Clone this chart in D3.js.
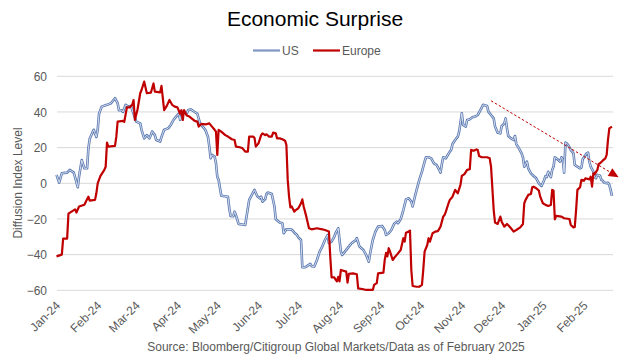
<!DOCTYPE html>
<html><head><meta charset="utf-8">
<script src="https://cdn.jsdelivr.net/npm/d3@7"></script>
<style>
html,body{margin:0;padding:0;background:#fff;}
svg text{font-family:"Liberation Sans",Arial,sans-serif;}
</style></head>
<body><svg id="c" width="627" height="359"></svg>
<script>
// ---- data (days counted from 2024-01-01) ----
const startDate = new Date(2024, 0, 1);
const seriesNames = ["US", "Europe"];
const yTicks = [-60, -40, -20, 0, 20, 40, 60];
const usDays = [0,2,4,8,10,13,14,16,17,19,21,23,24,25,27,28,30,31,32,34,38,41,44,46,47,49,50,52,54,56,58,60,63,64,66,68,70,72,74,75,78,79,81,84,86,88,90,92,93,95,98,99,101,104,106,108,110,112,114,115,116,117,119,120,121,122,124,129,130,131,133,134,135,137,142,144,145,147,149,151,153,154,155,157,158,159,162,164,165,168,170,171,173,177,179,181,182,184,185,187,191,192,194,196,198,200,202,204,205,207,209,210,212,214,215,217,220,222,225,226,228,231,233,235,236,238,240,242,245,247,248,250,252,254,256,257,259,261,263,265,267,268,270,272,273,275,277,278,280,282,284,286,288,289,290,291,293,294,296,297,298,300,302,303,304,305,306,308,309,311,313,315,317,319,321,324,325,327,329,330,332,334,335,337,338,339,340,342,344,345,346,348,350,351,352,354,355,357,359,361,363,365,367,368,369,370,372,373,374,375,377,379,380,381,382,383,384,385,387,389,390,392,394,395,396,397,399,400,401,402,404,405,406,407,409,410,411,412,414,415,416,417,418];
const usValues = [4.7,0.4,5.6,6,7.5,6,3.4,-2.2,4,13,8.4,8.4,19.6,25,28.4,30,26,30,39,43,44,44.9,47.7,44.9,41,41,40,44,43,43.4,39,34.6,33.6,30,25.2,27,25.2,29,27,24.3,23.4,26,30,30.8,32.7,35.5,37.4,39,35.6,40,39,41,41.5,40,39,33.6,31.8,30,26,20.6,14,15.9,15,11.2,3.7,1.9,-7,-7.5,-14,-18.3,-18.5,-15.9,-17.8,-22.8,-23.4,-14,-9.3,-6.5,-3.7,-7.1,-8.4,-7.5,-10.3,-9,-6,-5.2,-6,-13,-20.2,-22,-22.4,-28,-25.8,-26,-27.7,-29,-30.3,-31.8,-47.1,-47.1,-45.2,-46.5,-46.7,-43,-38.3,-35.5,-31.8,-29,-33.6,-32.7,-30,-28,-25.2,-38.3,-40.2,-38.3,-35.5,-33.6,-32,-30.8,-35.5,-37.4,-40.2,-44,-39.3,-31.8,-27.1,-24.3,-23.9,-26.2,-29,-28,-26.2,-22.8,-21.5,-22.4,-20.2,-15,-9,-8.4,-10.3,-13,-6.5,-0.9,1.9,6.5,12.1,14.6,14.6,14,11.2,10.3,7.5,6,10.8,14.6,14,15.3,17.8,18.7,22,24.3,26.2,29,34,39.3,32.7,31.8,35.5,35.9,37,37.4,38.3,41,44,43.4,40.2,38.3,36.4,31.8,28.4,28,32.1,33.6,36.4,30.8,26.5,25.2,24.3,26.5,22,19.6,16.8,14.6,9.3,12.1,8.4,5.6,4.1,2.8,0,-1.5,1.9,4.1,3.5,6.5,3.4,7.5,9.3,14.6,13.5,12.1,14.6,13.5,6,22.8,22.4,21.5,18.7,16.8,10.3,9.3,8.4,8.8,13.5,14.6,16.8,17.2,12.1,9.3,6.5,3.4,2.8,4.7,4.3,1.9,1.5,0.4,0,0.3,-0.9,-3.7,-7.1];
const euDays = [0,4,5,8,9,11,14,15,17,21,23,24,25,29,30,31,33,36,37,38,39,44,45,46,50,51,53,55,57,58,59,61,63,64,66,68,71,73,74,78,79,81,83,85,87,89,91,93,94,95,96,98,100,104,106,107,109,112,115,117,119,120,121,122,124,127,129,132,134,135,138,140,142,144,145,148,149,150,152,154,155,157,158,160,162,163,165,166,168,170,172,173,174,175,176,177,179,180,182,184,185,186,188,190,192,196,200,202,205,206,207,209,210,211,212,213,214,218,219,220,223,226,227,231,233,238,239,241,242,246,247,248,249,250,251,253,255,257,259,261,262,263,265,266,267,268,271,273,275,276,277,279,280,281,283,285,287,289,291,292,293,295,296,298,300,302,304,305,307,309,311,312,314,316,317,318,320,324,326,327,329,330,332,334,335,337,339,340,342,344,346,349,351,352,353,355,357,358,359,361,363,364,366,368,370,372,373,374,375,376,380,382,386,387,389,390,391,392,394,395,397,398,401,402,403,404,405,407,408,409,411,413,414,415,416,418];
const euValues = [-41,-40,-31,-31,-17,-16,-14.6,-16.4,-13,-12,-9,-7.5,-9.7,-9.3,-5.6,0,4,7.5,9.3,22.8,20.6,21,26,34.6,35,34.5,42.6,42.6,44,46.7,35.5,41.5,50.5,52.3,57,50.5,50.8,56,51.4,51,54.6,41,43.4,46.7,44,43,42.6,39,41,35.5,41,38,37.4,35,34.6,31.8,33.3,33,33.6,31.8,30,29,15.9,30,29,27,26.2,24.7,24.3,20.6,20.2,19.6,17.8,17.8,26.2,26.2,25.5,20.6,22.4,27,28,27,27.5,26.2,26.2,28.4,28,25.2,25.2,24.7,23.9,21.5,1.9,-7.5,-13.5,-13,-15.9,-15,-14,-11.2,-9,-13,-18.7,-25.2,-25.8,-25.2,-25.8,-26.2,-27,-41,-52.7,-52.7,-54,-55,-52.5,-55,-48.6,-49.5,-55.7,-50.8,-50.5,-51,-58.9,-59.4,-59.8,-59.8,-57,-56,-50.5,-50.1,-43,-39,-41,-36.4,-38.3,-43,-41,-39.3,-37.4,-30.8,-32.7,-27.7,-27.1,-26.5,-48.6,-57.6,-58,-58,-57,-48.6,-38.3,-34.6,-30.8,-32.7,-28,-27.1,-26.8,-24.3,-18.7,-17.8,-15.9,-11.2,-9.3,-7.5,-3.7,-5.6,-0.9,4.1,5.2,7.5,7.9,18.7,18.3,19,18.7,15.3,14.6,14.6,14,9.3,-15,-22,-22.8,-18.7,-21.5,-24.3,-22.8,-23.5,-25.2,-27.1,-26.2,-24.7,-22.8,-11.2,-9.3,-6.5,-6,-2.2,-1.9,-2.8,-4.1,-7.5,-11.2,-12.1,-12.7,-12.2,-3.7,-4,-20.2,-18.3,-18.7,-19.6,-20,-23.4,-24.7,-24.5,-15,-3.7,-2.2,1.9,1.5,2.8,2.2,3.7,-1.9,5.6,5.2,7.5,10.8,11.2,12.7,14,15.9,24.3,30.8,31.8];
// trend line (US) : start and arrow tip
const trendDays = [327, 423];
const trendValues = [46.3, 3.4];
const axisEndDay = 419;
const titleText = "Economic Surprise";
const yTitle = "Diffusion Index Level";
const sourceText = "Source: Bloomberg/Citigroup Global Markets/Data as of February 2025";

// ---- drawing ----
const svg = d3.select("#c");
const day = d => d3.timeDay.offset(startDate, d);
const x = d3.scaleTime().domain([startDate, day(axisEndDay)]).range([56.5, 613.3]);
const y = d3.scaleLinear().domain([-60, 60]).range([290.3, 76.3]);
const grey = "#595959";

// gridlines
svg.append("g").selectAll("line").data(yTicks).join("line")
  .attr("x1", 57).attr("x2", 613).attr("y1", d => y(d)).attr("y2", d => y(d))
  .attr("stroke", "#d9d9d9").attr("stroke-width", 1);

// y axis labels
const yAxis = d3.axisLeft(y).tickValues(yTicks).tickSize(0).tickPadding(0);
const gy = svg.append("g").attr("transform", "translate(47,0)").call(yAxis);
gy.select(".domain").remove();
gy.selectAll("text").attr("fill", grey).style("font-size", "12px").attr("dy", "0.34em");

// x axis labels
const xAxis = d3.axisBottom(x).ticks(d3.timeMonth.every(1)).tickFormat(d3.timeFormat("%b-%y")).tickSize(0);
const gx = svg.append("g").attr("transform", "translate(0,290.3)").call(xAxis);
gx.select(".domain").remove();
gx.selectAll("text").attr("fill", grey).style("font-size", "12px")
  .attr("text-anchor", "end").attr("dy", null).attr("y", 0)
  .attr("transform", "translate(4,16) rotate(-45)");

// lines
const usData = usDays.map((d, i) => [day(d), usValues[i]]);
const euData = euDays.map((d, i) => [day(d), euValues[i]]);
const line = d3.line().x(d => x(d[0])).y(d => y(d[1]));
svg.append("path").attr("d", line(usData)).attr("fill", "none")
  .attr("stroke", "#5a78b0").attr("stroke-width", 2.6).attr("stroke-linejoin", "round");
svg.append("path").attr("d", line(usData)).attr("fill", "none")
  .attr("stroke", "#dfe6f3").attr("stroke-width", 0.9).attr("stroke-linejoin", "round");
svg.append("path").attr("d", line(euData)).attr("fill", "none")
  .attr("stroke", "#c00000").attr("stroke-width", 2.2).attr("stroke-linejoin", "round");

// trend arrow
const tx0 = x(day(trendDays[0])), ty0 = y(trendValues[0]);
const tx1 = x(day(trendDays[1])), ty1 = y(trendValues[1]);
const ang = Math.atan2(ty1 - ty0, tx1 - tx0);
const headLen = 10, headW = 4.5;
const bx = tx1 - headLen * Math.cos(ang), by = ty1 - headLen * Math.sin(ang);
svg.append("line").attr("x1", tx0).attr("y1", ty0).attr("x2", bx).attr("y2", by)
  .attr("stroke", "#c00000").attr("stroke-width", 1).attr("stroke-dasharray", "2.5,2");
svg.append("path")
  .attr("d", `M${tx1},${ty1}L${bx - headW * Math.sin(ang)},${by + headW * Math.cos(ang)}L${bx + headW * Math.sin(ang)},${by - headW * Math.cos(ang)}Z`)
  .attr("fill", "#c00000");

// title
svg.append("text").attr("x", 315).attr("y", 26).attr("text-anchor", "middle")
  .style("font-size", "21px").attr("fill", "#000").text(titleText);

// legend
const legend = [{name: seriesNames[0], color: "#7f96c4", x: 253}, {name: seriesNames[1], color: "#c00000", x: 313}];
const lg = svg.append("g");
legend.forEach(l => {
  lg.append("line").attr("x1", l.x).attr("x2", l.x + 27).attr("y1", 50.5).attr("y2", 50.5)
    .attr("stroke", l.color).attr("stroke-width", 2.2);
  lg.append("text").attr("x", l.x + 29).attr("y", 55).attr("fill", grey)
    .style("font-size", "12px").text(l.name);
});

// y title
svg.append("text").attr("transform", "translate(22,183) rotate(-90)").attr("text-anchor", "middle")
  .attr("fill", grey).style("font-size", "12px").text(yTitle);

// source
svg.append("text").attr("x", 336).attr("y", 351).attr("text-anchor", "middle")
  .attr("fill", grey).style("font-size", "12px").text(sourceText);
</script></body></html>
